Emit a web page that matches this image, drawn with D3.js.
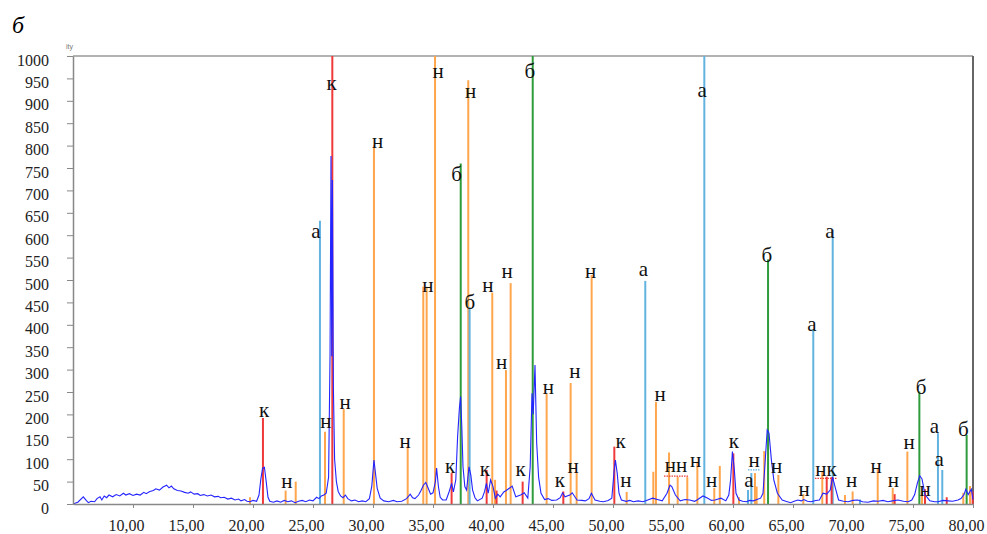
<head>
  <meta charset="utf-8">
  <title>XRD</title>
<style>
body { margin:0; background:#fff; }
.axis path, .axis line { stroke:#888; }
</style>
<script src="https://cdn.jsdelivr.net/npm/d3@7"></script>
</head>
<body>
<script>

var serif = "'Liberation Serif', 'Times New Roman', 'DejaVu Serif', serif";

// phase colours: а, б, к, н
var phaseColor = { "a": "#62b3e0", "b": "#2f9b3b", "k": "#f03a3a", "n": "#ffa64d" };

// stick lines [2theta, intensity] per phase (1000 = off the top)
var sticksA = [[25.58, 632], [38.05, 440], [52.69, 498], [57.61, 1000], [61.25, 31], [61.53, 69],
  [66.69, 390], [68.31, 612], [70.58, 10], [77.08, 158], [77.44, 76]];
var sticksB = [[37.31, 760], [43.31, 1000], [62.92, 546], [75.53, 251], [79.47, 154]];
var sticksK = [[20.83, 192], [26.61, 1000], [36.55, 69], [39.47, 76], [40.3, 30], [42.47, 50], [45.86, 28],
  [50.11, 128], [60.03, 113], [67.81, 61], [68.22, 60], [73.47, 22], [76.0, 33], [77.81, 15], [79.97, 28]];
var sticksN = [[19.75, 15], [22.72, 30], [23.56, 50], [26.0, 161], [27.56, 212], [30.08, 801], [32.89, 128],
  [34.19, 485], [34.47, 485], [35.17, 1000], [37.94, 946], [39.94, 472], [40.17, 54], [41.08, 299], [41.47, 493],
  [44.47, 247], [46.47, 270], [46.97, 69], [48.22, 511], [51.14, 27], [53.36, 72], [53.58, 228], [54.67, 115],
  [55.39, 61], [56.19, 60], [57.03, 94], [58.44, 36], [58.9, 85], [60.5, 15], [61.83, 69], [61.97, 39],
  [62.6, 118], [63.78, 65], [65.86, 22], [67.44, 72], [69.33, 20], [69.97, 28], [72.06, 80], [73.31, 36],
  [74.53, 117], [75.75, 28], [79.19, 25], [79.75, 40]];

// peak letters [2theta, height, text]
var peakLabels = [[20.92, 205, "к"], [22.83, 47, "н"], [25.25, 604, "а"], [26.08, 181, "н"], [26.56, 935, "к"],
  [27.67, 223, "н"], [30.39, 806, "н"], [32.67, 136, "н"], [34.58, 484, "н"], [35.42, 963, "н"], [36.42, 80, "к"],
  [36.97, 737, "б"], [38.14, 917, "н"], [38.08, 452, "б"], [39.33, 74, "к"], [39.58, 484, "н"], [40.72, 312, "н"],
  [41.17, 516, "н"], [42.31, 74, "к"], [43.08, 967, "б"], [44.61, 257, "н"], [45.58, 48, "к"], [46.67, 80, "н"],
  [46.83, 292, "н"], [48.14, 516, "н"], [50.64, 136, "к"], [51.08, 48, "н"], [52.53, 519, "а"], [53.92, 240, "н"],
  [55.25, 83, "нн"], [56.89, 94, "н"], [57.44, 920, "а"], [58.22, 48, "н"], [60.08, 136, "к"], [61.33, 49, "а"],
  [61.75, 94, "н"], [62.81, 556, "б"], [63.64, 80, "н"], [65.92, 29, "н"], [66.58, 397, "а"], [67.75, 74, "нк"],
  [68.08, 606, "а"], [69.89, 48, "н"], [71.92, 81, "н"], [73.36, 49, "н"], [74.67, 135, "н"], [75.67, 262, "б"],
  [76.0, 29, "н"], [76.78, 169, "а"], [77.17, 96, "а"], [79.19, 167, "б"]];

// dotted marks under grouped letters [from, to, height, phase]
var underMarks = [[54.25, 56.33, 62, "k"], [66.83, 68.69, 57, "k"], [61.25, 62.25, 76, "a"]];

// measured pattern [2theta, intensity]
var pattern = [[5.0,0],[5.4,4],[5.86,16],[6.1,8],[6.28,3],[6.5,6],[6.8,5],[7.0,12],[7.25,16],[7.4,9],[7.6,18],
  [7.8,14],[8.0,20],[8.3,16],[8.6,21],[8.9,18],[9.2,24],[9.4,20],[9.7,23],[10.0,19],[10.3,22],[10.6,20],[10.9,26],
  [11.1,23],[11.4,28],[11.7,30],[11.9,34],[12.2,31],[12.5,38],[12.8,42],[13.0,36],[13.2,40],[13.4,34],[13.7,30],
  [14.0,29],[14.3,26],[14.6,24],[14.8,27],[15.1,22],[15.4,23],[15.6,19],[15.9,21],[16.2,18],[16.5,20],[16.8,16],
  [17.1,17],[17.3,14],[17.6,15],[17.9,11],[18.2,13],[18.5,9],[18.8,11],[19.0,7],[19.3,10],[19.5,6],[19.75,5],
  [20.0,8],[20.3,6],[20.5,20],[20.65,55],[20.8,80],[20.95,82],[21.1,50],[21.25,15],[21.4,6],[21.7,4],[22.0,7],
  [22.3,4],[22.6,8],[22.9,5],[23.2,7],[23.5,3],[23.8,6],[24.1,8],[24.4,5],[24.7,9],[25.0,7],[25.3,15],[25.5,12],
  [25.7,18],[25.9,20],[26.1,24],[26.3,60],[26.42,332],[26.5,777],[26.56,330],[26.62,723],[26.7,260],[26.8,100],
  [26.95,50],[27.1,28],[27.3,18],[27.5,14],[27.7,20],[27.9,12],[28.2,7],[28.5,9],[28.8,5],[29.1,7],[29.4,5],
  [29.7,12],[29.9,40],[30.08,98],[30.2,70],[30.35,35],[30.6,13],[30.9,7],[31.3,5],[31.7,8],[32.0,5],[32.4,6],
  [32.8,12],[33.1,22],[33.3,14],[33.5,12],[33.8,20],[34.0,30],[34.2,42],[34.4,48],[34.6,35],[34.8,22],[35.0,25],
  [35.2,50],[35.3,80],[35.45,39],[35.6,15],[35.8,9],[36.1,9],[36.35,28],[36.55,46],[36.7,27],[36.9,54],[37.05,150],
  [37.2,214],[37.3,240],[37.4,173],[37.5,83],[37.65,39],[37.8,31],[38.0,83],[38.15,65],[38.3,31],[38.5,14],[38.7,7],
  [39.1,13],[39.3,28],[39.45,46],[39.6,24],[39.8,54],[40.0,39],[40.2,13],[40.4,22],[40.6,16],[40.9,27],[41.1,30],
  [41.6,40],[41.9,16],[42.3,20],[42.6,25],[42.9,13],[43.1,83],[43.25,247],[43.35,200],[43.5,310],[43.64,136],
  [43.8,60],[44.0,24],[44.3,10],[44.6,12],[44.9,8],[45.3,9],[45.6,14],[45.8,25],[46.0,16],[46.4,20],[46.6,25],
  [47.0,9],[47.4,8],[47.7,7],[48.0,12],[48.2,24],[48.5,9],[48.9,6],[49.2,5],[49.6,8],[49.9,13],[50.1,76],[50.2,98],
  [50.35,69],[50.5,24],[50.7,9],[51.1,6],[51.4,8],[51.7,5],[52.1,7],[52.5,5],[52.9,9],[53.3,13],[53.7,10],[54.1,7],
  [54.5,24],[54.75,42],[54.9,39],[55.2,20],[55.6,7],[56.0,10],[56.4,9],[56.8,6],[57.0,9],[57.5,18],[57.9,13],
  [58.2,8],[58.5,9],[59.0,13],[59.4,7],[59.65,20],[59.8,54],[59.95,117],[60.1,80],[60.25,24],[60.5,9],[60.8,6],
  [61.1,5],[61.4,8],[61.7,7],[62.0,10],[62.3,13],[62.5,24],[62.67,91],[62.85,165],[63.0,158],[63.2,98],[63.4,54],
  [63.7,24],[64.1,9],[64.4,6],[64.8,3],[65.1,6],[65.4,9],[65.7,7],[65.9,10],[66.2,6],[66.5,5],[66.9,8],[67.2,9],
  [67.5,24],[67.8,22],[68.1,31],[68.3,60],[68.5,39],[68.8,9],[69.2,6],[69.6,5],[70.0,8],[70.4,9],[70.8,5],
  [71.25,4],[71.7,7],[72.1,6],[72.5,8],[72.9,5],[73.3,7],[73.75,9],[74.2,6],[74.6,5],[74.9,9],[75.14,21],
  [75.36,46],[75.56,63],[75.75,56],[76.0,21],[76.4,7],[76.8,5],[77.1,5],[77.5,8],[77.9,7],[78.3,6],[78.75,9],
  [79.0,12],[79.25,21],[79.4,33],[79.6,21],[79.86,33],[80.0,10]];

var yTicks = d3.range(0, 1001, 50);
var xTicks = d3.range(10, 81, 5);

var width = 987, height = 534;
var margin = { "top": 56, "bottom": 30, "right": 14, "left": 73 };

var svg = d3.select("body").append("svg").attr("width", width).attr("height", height);

var xScale = d3.scaleLinear().domain([5, 80]).range([margin.left, width - margin.right]);
var yScale = d3.scaleLinear().domain([0, 1000]).range([height - margin.bottom, margin.top]).clamp(true);

// panel letter and cropped axis title
svg.append("text").attr("x", 12).attr("y", 33)
  .style("font-family", serif).style("font-style", "italic").style("font-size", "24px")
  .text("б");
svg.append("text").attr("x", 66).attr("y", 49)
  .style("font-family", "'Liberation Sans', sans-serif").style("font-size", "7px").attr("fill", "#777")
  .text("ity");

// frame top and right
svg.append("line").attr("x1", margin.left).attr("x2", width - margin.right)
  .attr("y1", margin.top).attr("y2", margin.top).attr("stroke", "#999").attr("stroke-width", 1.5);
svg.append("line").attr("x1", width - margin.right).attr("x2", width - margin.right)
  .attr("y1", margin.top).attr("y2", height - margin.bottom).attr("stroke", "#666").attr("stroke-width", 2);

// sticks
var sticks = [];
sticksN.forEach(function(d) { sticks.push([d[0], d[1], "n"]); });
sticksA.forEach(function(d) { sticks.push([d[0], d[1], "a"]); });
sticksK.forEach(function(d) { sticks.push([d[0], d[1], "k"]); });
sticksB.forEach(function(d) { sticks.push([d[0], d[1], "b"]); });

svg.append("g").selectAll("line")
  .data(sticks)
  .enter()
  .append("line")
  .attr("x1", function(d) { return xScale(d[0]); })
  .attr("x2", function(d) { return xScale(d[0]); })
  .attr("y1", yScale(0))
  .attr("y2", function(d) { return yScale(d[1]); })
  .attr("stroke", function(d) { return phaseColor[d[2]]; })
  .attr("stroke-width", 2);

// dotted underlines
svg.append("g").selectAll("line")
  .data(underMarks)
  .enter()
  .append("line")
  .attr("x1", function(d) { return xScale(d[0]); })
  .attr("x2", function(d) { return xScale(d[1]); })
  .attr("y1", function(d) { return yScale(d[2]); })
  .attr("y2", function(d) { return yScale(d[2]); })
  .attr("stroke", function(d) { return phaseColor[d[3]]; })
  .attr("stroke-width", 1.2)
  .attr("stroke-dasharray", "1.5,1");

// pattern
svg.append("path")
  .datum(pattern)
  .attr("fill", "none")
  .attr("stroke", "#2424ff")
  .attr("stroke-width", 1.1)
  .attr("d", d3.line()
    .x(function(d) { return xScale(d[0]); })
    .y(function(d) { return yScale(d[1]); }));

// letters
svg.append("g").selectAll("text")
  .data(peakLabels)
  .enter()
  .append("text")
  .attr("x", function(d) { return xScale(d[0]); })
  .attr("y", function(d) { return yScale(d[1]) + (d[2] == "б" ? 7 : 5); })
  .attr("text-anchor", "middle")
  .style("font-family", serif)
  .style("font-size", "21px")
  .attr("fill", "#111")
  .text(function(d) { return d[2]; });

// axes
var axisY = d3.axisLeft(yScale).tickValues(yTicks).tickSize(6).tickSizeOuter(0)
  .tickFormat(function(d) { return String(d); });
var axisX = d3.axisBottom(xScale).tickValues(xTicks).tickSize(4).tickSizeOuter(0)
  .tickFormat(function(d) { return d3.format(".2f")(d).replace(".", ","); });

var gy = svg.append("g").attr("class", "axis")
  .attr("transform", "translate(" + margin.left + ",0)")
  .call(axisY);
gy.selectAll("text").attr("x", -24).attr("dy", 0).attr("y", 9)
  .style("font-family", serif).style("font-size", "16px").attr("fill", "#222");
gy.select(".domain").attr("stroke-width", 1.5);

var gx = svg.append("g").attr("class", "axis")
  .attr("transform", "translate(0," + (height - margin.bottom) + ")")
  .call(axisX);
gx.selectAll("text").attr("x", -7).attr("dy", 0).attr("y", 27)
  .style("font-family", serif).style("font-size", "16px").attr("fill", "#222");
gx.select(".domain").attr("stroke-width", 1.5);

</script>
</body>

</html>
